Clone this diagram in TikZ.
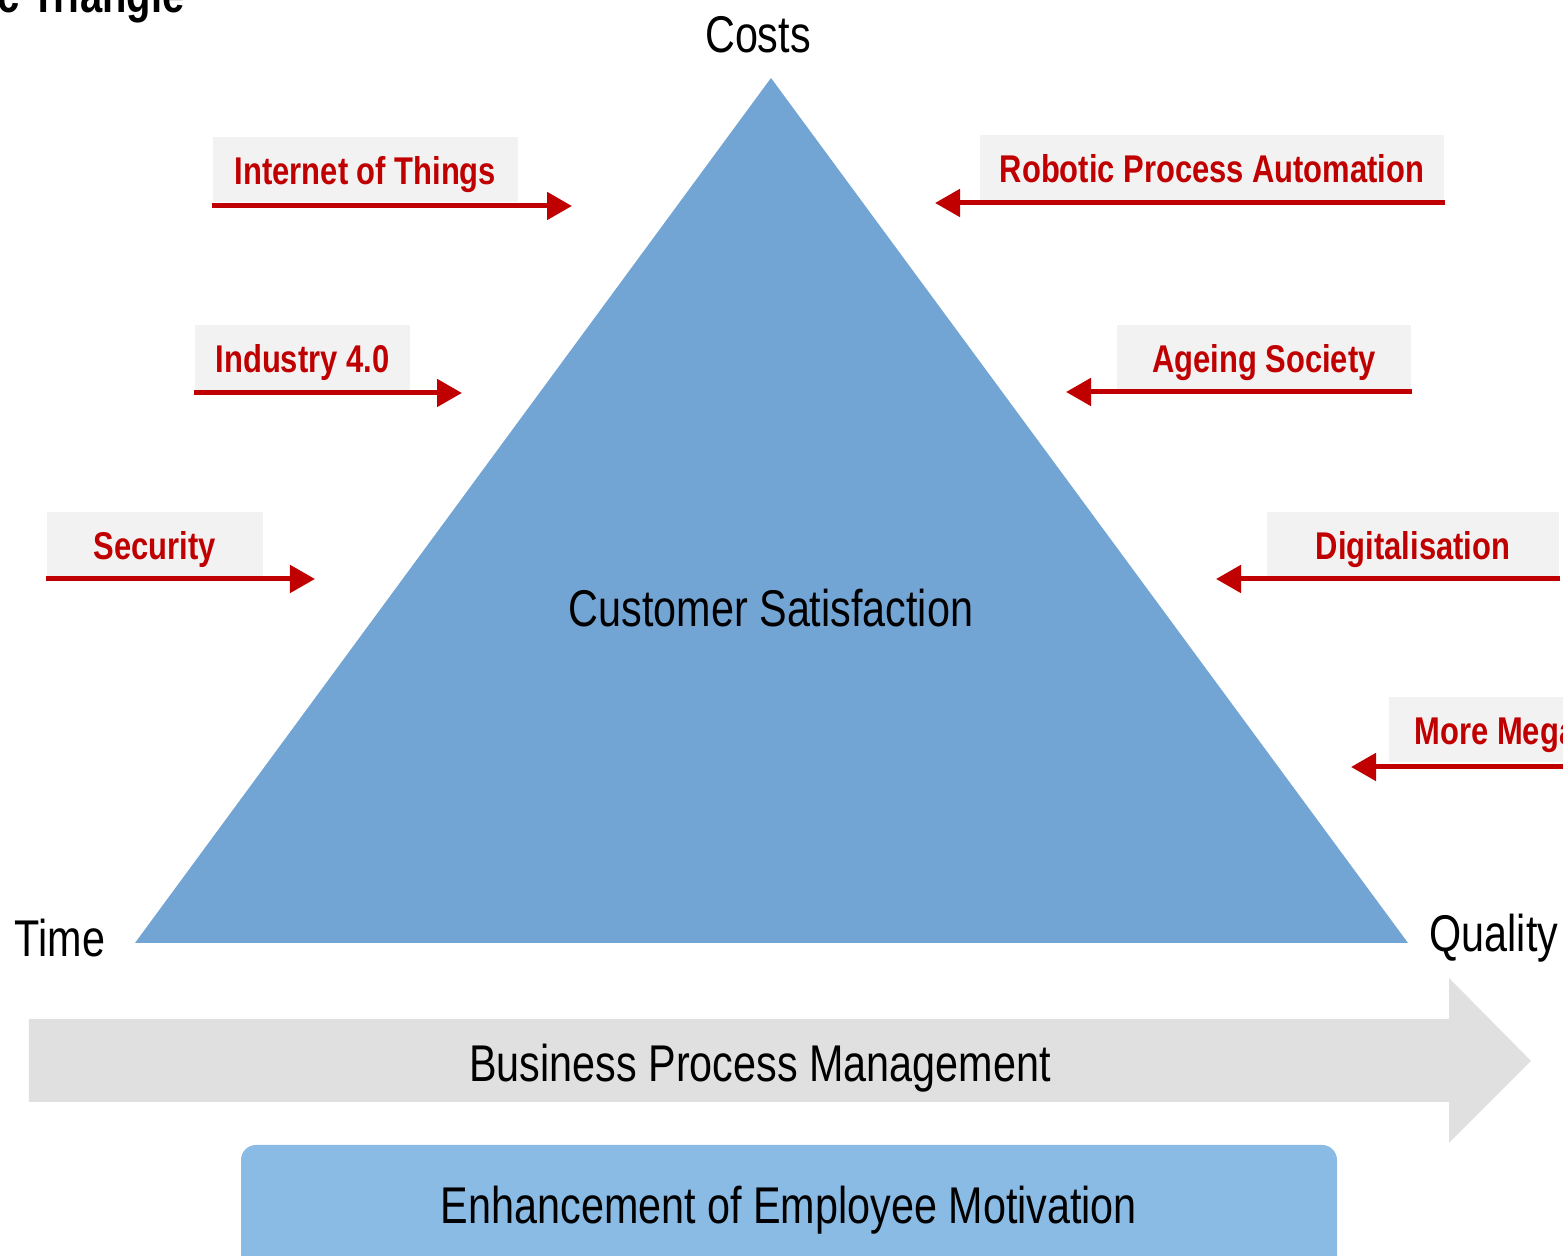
\documentclass[tikz,border=0pt]{standalone}
\usepackage{fontspec}
\setmainfont[FakeStretch=0.8]{Liberation Sans}
\usepackage{tikz}
\usetikzlibrary{arrows.meta}

\definecolor{triblue}{RGB}{115,165,212}
\definecolor{boxblue}{RGB}{137,187,229}
\definecolor{trendred}{RGB}{192,0,0}
\definecolor{trendgray}{RGB}{242,242,242}
\definecolor{bpmgray}{RGB}{224,224,224}

\begin{document}
\begin{tikzpicture}[>={Triangle[length=0.25cm,width=0.27cm]},
  corner/.style={font=\fontsize{14.7}{16}\selectfont},
  trend/.style={fill=trendgray,text=trendred,inner sep=0pt,minimum height=0.65cm,
    text height=0.37cm,text depth=0.07cm,font=\fontsize{11}{13}\selectfont\bfseries},
  trendline/.style={draw=trendred,line width=0.05cm,->}]
 \useasboundingbox (0,0) rectangle (15.63,12.56);

 % Title
 \node[anchor=base east,inner sep=0pt,font=\fontsize{14.2}{17}\selectfont\bfseries] (title) at (1.85,12.43) {Magic Triangle};

 % Triangle
 \coordinate (top) at (7.71,11.78);
 \coordinate (left) at (1.35,3.13);
 \coordinate (right) at (14.08,3.13);
 \fill[triblue] (top) -- (left) -- (right) -- cycle;
 \node[corner] (costs) at (7.58,12.21) {Costs};
 \node[corner] (time) at (0.60,3.18) {Time};
 \node[corner] (quality) at (14.94,3.18) {Quality};
 \node[corner] (cs) at (7.71,6.48) {Customer Satisfaction};

 % Trends left
 \node[trend,minimum width=3.05cm] (iot) at (3.655,10.86) {Internet of Things};
 \node[trend,minimum width=2.15cm] (ind) at (3.025,8.985) {Industry 4.0};
 \node[trend,minimum width=2.16cm] (sec) at (1.55,7.115) {Security};
 \coordinate (iottip) at (5.72,10.50);
 \coordinate (indtip) at (4.62,8.63);
 \coordinate (sectip) at (3.15,6.77);
 \draw[trendline] (iot.south west |- iottip) -- (iottip);
 \draw[trendline] (ind.south west |- indtip) -- (indtip);
 \draw[trendline] (sec.south west |- sectip) -- (sectip);

 % Trends right
 \node[trend,minimum width=4.64cm] (rpa) at (12.12,10.88) {Robotic Process Automation};
 \node[trend,minimum width=2.94cm] (age) at (12.64,8.985) {Ageing Society};
 \node[trend,minimum width=2.92cm] (dig) at (14.13,7.115) {Digitalisation};
 \node[trend,anchor=west] (mega) at (13.88,5.26) {\hspace*{0.26cm}\makebox[3.24cm][l]{More Megatrends}};
 \coordinate (rpatip) at (9.35,10.53);
 \coordinate (agetip) at (10.66,8.64);
 \coordinate (digtip) at (12.16,6.77);
 \coordinate (megatip) at (13.51,4.89);
 \draw[trendline] (rpa.south east |- rpatip) -- (rpatip);
 \draw[trendline] (age.south east |- agetip) -- (agetip);
 \draw[trendline] (dig.south east |- digtip) -- (digtip);
 \draw[trendline] (mega.south east |- megatip) -- (megatip);

 % BPM arrow
 \fill[bpmgray] (0.29,2.37) -- (14.49,2.37) -- (14.49,2.78) -- (15.31,1.95)
   -- (14.49,1.13) -- (14.49,1.54) -- (0.29,1.54) -- cycle;
 \node[corner] (bpm) at (7.60,1.88) {Business Process Management};

 % Motivation
 \fill[boxblue,rounded corners=0.15cm] (2.41,1.11) rectangle (13.37,-0.3);
 \node[corner] (mot) at (7.89,0.46) {Enhancement of Employee Motivation};
\end{tikzpicture}
\end{document}
